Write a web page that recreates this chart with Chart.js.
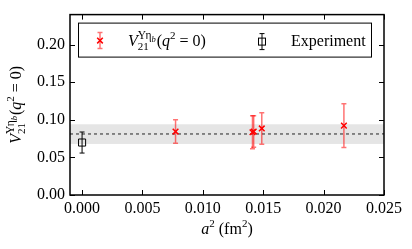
<!DOCTYPE html>
<html><head><meta charset="utf-8">
<script src="https://cdn.jsdelivr.net/npm/chart.js@4/dist/chart.umd.min.js"></script>
<style>html,body{margin:0;padding:0;background:#fff}</style>
</head><body>
<canvas id="c" width="412" height="249" style="width:412px;height:249px;display:block"></canvas>
<script>
// ---- data ----
const latticeA2  = [0.00774, 0.01411, 0.01421, 0.01488, 0.02168];
const latticeV   = [0.0844, 0.0835, 0.0845, 0.0885, 0.0923];
const latticeErr = [0.0157, 0.0220, 0.0210, 0.0210, 0.0290];
const expA2  = [0.0];
const expV   = [0.0698];
const expErr = [0.0140];
const fitCentral = 0.0812;
const fitBand = [0.0679, 0.0941];
const xTicks = [0.000, 0.005, 0.010, 0.015, 0.020, 0.025];
const yTicks = [0.00, 0.05, 0.10, 0.15, 0.20];

const SERIF = '"Liberation Serif", "DejaVu Serif", serif';
function fnt(size, italic){ return (italic ? 'italic ' : '') + size + 'px ' + SERIF; }

const labelSegs = [
  {t:'V', s:16, i:true, dy:0},
  {stack:true, sub:[{t:'21', s:11, i:false, dy:4}], sup:[{t:'\u03A5\u03B7', s:11.5, i:false, dy:-7},{t:'b', s:8.5, i:true, dy:-4}]},
  {t:'(', s:16, i:false, dy:0},
  {t:'q', s:16, i:true, dy:0},
  {t:'2', s:11, i:false, dy:-7},
  {t:' = 0)', s:16, i:false, dy:0}
];
function segW(ctx, list){ let w=0; for(const p of list){ ctx.font=fnt(p.s,p.i); w+=ctx.measureText(p.t).width; } return w; }
function richWidth(ctx, segs){
  let w=0;
  for(const g of segs){ if(g.stack){ w += Math.max(segW(ctx,g.sub), segW(ctx,g.sup)) + 1; } else w += segW(ctx,[g]); }
  return w;
}
function drawList(ctx, list, x, y){
  for(const p of list){ ctx.font=fnt(p.s,p.i); ctx.fillText(p.t, x, y+p.dy); x += ctx.measureText(p.t).width; }
  return x;
}
function drawRich(ctx, segs, x, y){
  ctx.textAlign='left'; ctx.textBaseline='alphabetic'; ctx.fillStyle='#000';
  for(const g of segs){
    if(g.stack){
      const x1=drawList(ctx,g.sub,x,y), x2=drawList(ctx,g.sup,x,y);
      x = Math.max(x1,x2)+1;
    } else x = drawList(ctx,[g],x,y);
  }
}

function vErr(ctx, xp, yTop, yBot, color, lw, cap){
  ctx.save(); ctx.strokeStyle=color; ctx.lineWidth=lw;
  ctx.beginPath();
  ctx.moveTo(xp, yTop); ctx.lineTo(xp, yBot);
  ctx.moveTo(xp-cap, yTop); ctx.lineTo(xp+cap, yTop);
  ctx.moveTo(xp-cap, yBot); ctx.lineTo(xp+cap, yBot);
  ctx.stroke(); ctx.restore();
}
const RED_ERR = 'rgba(255,0,0,0.55)';

const decor = {
  id:'decor',
  beforeDatasetsDraw(chart){
    const {ctx, chartArea:a, scales:{x,y}} = chart;
    ctx.save();
    const yb1 = y.getPixelForValue(fitBand[1]), yb0 = y.getPixelForValue(fitBand[0]);
    ctx.fillStyle='rgba(0,0,0,0.1)';
    ctx.fillRect(a.left, yb1, a.right-a.left, yb0-yb1);
    const yc = y.getPixelForValue(fitCentral);
    ctx.strokeStyle='#444'; ctx.lineWidth=1.2; ctx.setLineDash([3,3]);
    ctx.beginPath(); ctx.moveTo(a.left, yc); ctx.lineTo(a.right, yc); ctx.stroke();
    ctx.setLineDash([]);
    ctx.restore();
    latticeA2.forEach((v,i)=>{
      const xp=x.getPixelForValue(v);
      vErr(ctx, xp, y.getPixelForValue(latticeV[i]+latticeErr[i]), y.getPixelForValue(latticeV[i]-latticeErr[i]), RED_ERR, 1.5, 2.5);
    });
    expA2.forEach((v,i)=>{
      const xp=x.getPixelForValue(v);
      vErr(ctx, xp, y.getPixelForValue(expV[i]+expErr[i]), y.getPixelForValue(expV[i]-expErr[i]), '#000', 1, 2.5);
    });
  },
  afterDraw(chart){
    const {ctx, chartArea:a, scales:{x,y}} = chart;
    ctx.save();
    ctx.strokeStyle='#000'; ctx.lineWidth=1;
    const L=5;
    ctx.beginPath();
    for(const v of xTicks){ const p=Math.round(x.getPixelForValue(v))+0.5;
      ctx.moveTo(p,a.bottom); ctx.lineTo(p,a.bottom-L); ctx.moveTo(p,a.top); ctx.lineTo(p,a.top+L); }
    for(const v of yTicks){ const p=Math.round(y.getPixelForValue(v))+0.5;
      ctx.moveTo(a.left,p); ctx.lineTo(a.left+L,p); ctx.moveTo(a.right,p); ctx.lineTo(a.right-L,p); }
    ctx.stroke();
    ctx.lineWidth=1.5;
    ctx.strokeRect(a.left, a.top, a.right-a.left, a.bottom-a.top);
    // legend
    const lx=a.left+8, ly=a.top+8, lw=a.right-a.left-21, lh=34;
    ctx.fillStyle='#fff'; ctx.fillRect(lx,ly,lw,lh);
    ctx.lineWidth=1; ctx.strokeStyle='#000'; ctx.strokeRect(lx+0.5,ly+0.5,lw,lh);
    const cy = ly+18;
    const mx = lx+22;
    vErr(ctx, mx, cy-8, cy+8, RED_ERR, 1.5, 2.5);
    ctx.strokeStyle='red'; ctx.lineWidth=1.5; ctx.beginPath();
    ctx.moveTo(mx-2.8,cy-2.8); ctx.lineTo(mx+2.8,cy+2.8); ctx.moveTo(mx-2.8,cy+2.8); ctx.lineTo(mx+2.8,cy-2.8); ctx.stroke();
    drawRich(ctx, labelSegs, lx+50, cy+5);
    const ex = lx+184;
    vErr(ctx, ex, cy-7, cy+9, '#000', 1, 2.5);
    ctx.strokeStyle='#000'; ctx.lineWidth=1; ctx.strokeRect(ex-3.5, cy-2.5, 7, 7);
    ctx.font=fnt(16,false); ctx.fillStyle='#000'; ctx.textAlign='left';
    ctx.fillText('Experiment', lx+213, cy+5);
    // x axis title
    const xt=[{t:'a',s:16,i:true,dy:0},{t:'2',s:11,i:false,dy:-7},{t:' (fm',s:16,i:false,dy:0},{t:'2',s:11,i:false,dy:-7},{t:')',s:16,i:false,dy:0}];
    const xw=richWidth(ctx,xt);
    drawRich(ctx, xt, (a.left+a.right)/2 - xw/2, 234);
    // y axis title (rotated)
    const yw=richWidth(ctx,labelSegs);
    ctx.translate(21, (a.top+a.bottom)/2);
    ctx.rotate(-Math.PI/2);
    drawRich(ctx, labelSegs, -yw/2, 0);
    ctx.restore();
  }
};

const tickFont = {family: SERIF, size: 16};
new Chart(document.getElementById('c'), {
  type:'scatter',
  data:{datasets:[
    {label:'lattice', data: latticeA2.map((v,i)=>({x:v, y:latticeV[i]})),
     pointStyle:'crossRot', radius:4, hoverRadius:4, borderColor:'red', backgroundColor:'red', borderWidth:1.5},
    {label:'Experiment', data: expA2.map((v,i)=>({x:v, y:expV[i]})),
     pointStyle:'rect', radius:5, hoverRadius:5, borderColor:'#000', backgroundColor:'rgba(0,0,0,0)', borderWidth:1}
  ]},
  options:{
    responsive:false, animation:false, devicePixelRatio:1,
    layout:{padding:{top:9, right:28, left:0, bottom:0}},
    plugins:{legend:{display:false}, tooltip:{enabled:false}},
    scales:{
      x:{type:'linear', min:-0.001, max:0.025,
         afterBuildTicks(s){ s.ticks = xTicks.map(v=>({value:v})); },
         afterFit(s){ s.height=54; },
         ticks:{font:tickFont, color:'#000', padding:4, maxRotation:0, autoSkip:false, callback:v=>Number(v).toFixed(3)},
         grid:{display:false, drawTicks:false}, border:{display:false}},
      y:{type:'linear', min:0, max:0.24,
         afterBuildTicks(s){ s.ticks = yTicks.map(v=>({value:v})); },
         afterFit(s){ s.width=70; },
         ticks:{font:tickFont, color:'#000', padding:5, callback:v=>Number(v).toFixed(2)},
         grid:{display:false, drawTicks:false}, border:{display:false}}
    }
  },
  plugins:[decor]
});
</script>
</body></html>
